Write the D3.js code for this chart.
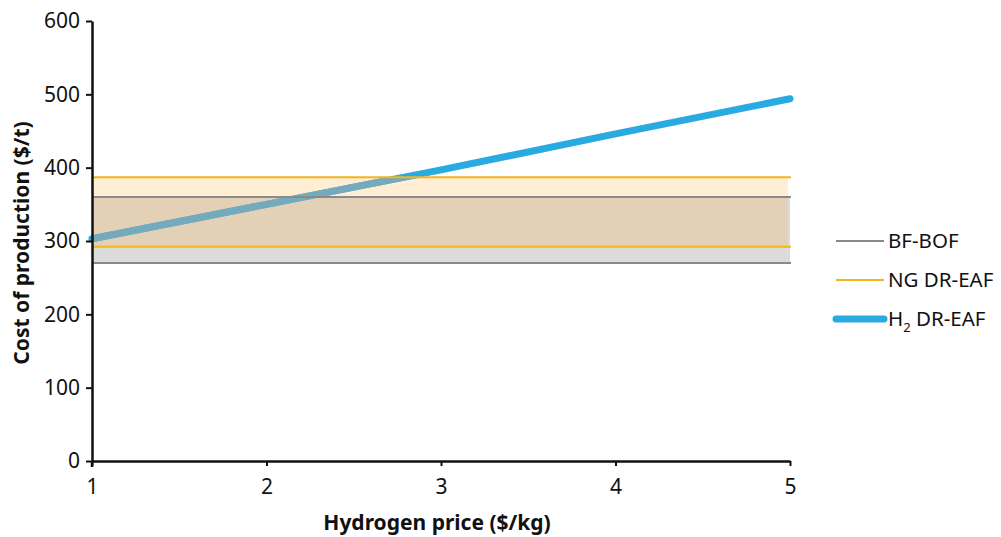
<!DOCTYPE html>
<html><head><meta charset="utf-8">
<script src="https://cdn.jsdelivr.net/npm/d3@7"></script>
<style>
body{margin:0;background:#fff;}
text{font-family:"Noto Sans","Open Sans",sans-serif;fill:#111;}
</style></head>
<body>
<svg id="chart" width="1001" height="537"></svg>
<script>
const xTicks = [1, 2, 3, 4, 5];
const yTicks = [0, 100, 200, 300, 400, 500, 600];
const h2Price = [1, 2, 3, 4, 5];
const h2Cost = [303, 350, 397, 446, 494];
const bandNames = ["BF-BOF", "NG DR-EAF"];
const bandLow = [270, 292];
const bandHigh = [360, 387];
const legendNames = ["BF-BOF", "NG DR-EAF", "H2 DR-EAF"];

const svg = d3.select("#chart");
const x = d3.scaleLinear().domain([1, 5]).range([92, 790]);
const y = d3.scaleLinear().domain([0, 600]).range([461, 21]);

// H2 line (bright)
const line = d3.line().x((d,i)=>x(h2Price[i])).y(d=>y(d));
svg.append("path").datum(h2Cost).attr("d", line)
  .attr("fill","none").attr("stroke","#29abe2").attr("stroke-width",7).attr("stroke-linecap","round");

// bands
const bandFill = ["rgba(153,153,153,0.35)", "rgba(255,170,40,0.2)"];
const bandLine = ["#8a8a8a", "#f4b41c"];
svg.append("rect").attr("x", x(1)).attr("width", x(5)-x(1))
  .attr("y", y(bandHigh[0])).attr("height", y(bandLow[0]) - y(bandHigh[0]))
  .attr("fill", bandFill[0]);
svg.append("rect").attr("x", x(1)).attr("width", x(5)-x(1)-2)
  .attr("y", y(bandHigh[1])).attr("height", y(bandLow[1]) - y(bandHigh[1]))
  .attr("fill", bandFill[1]);

// muted part of H2 line inside the band area
const clip = svg.append("clipPath").attr("id","bandclip");
clip.append("rect").attr("x", x(1)).attr("width", x(5)-x(1))
  .attr("y", y(d3.max(bandHigh))).attr("height", y(d3.min(bandLow)) - y(d3.max(bandHigh)));
svg.append("path").datum(h2Cost).attr("d", line).attr("clip-path","url(#bandclip)")
  .attr("fill","none").attr("stroke","#74aabd").attr("stroke-width",7);

// band border lines
[0,1].forEach(i=>{
  [bandLow[i], bandHigh[i]].forEach(v=>{
    svg.append("line").attr("x1", x(1)).attr("x2", x(5)+1)
      .attr("y1", y(v)).attr("y2", y(v))
      .attr("stroke", bandLine[i]).attr("stroke-width", 2);
  });
});

// axes
const yAxis = svg.append("g").attr("transform","translate(92,0)")
  .call(d3.axisLeft(y).tickValues(yTicks).tickSize(6).tickPadding(6).tickSizeOuter(0));
const xAxis = svg.append("g").attr("transform","translate(0,461)")
  .call(d3.axisBottom(x).tickValues(xTicks).tickFormat(d3.format("d")).tickSize(5).tickPadding(13).tickSizeOuter(0));
[yAxis, xAxis].forEach(g=>{
  g.select(".domain").attr("stroke","#111").attr("stroke-width",2.5);
  g.selectAll(".tick line").attr("stroke","#111").attr("stroke-width",2);
  g.selectAll(".tick text").attr("font-size",21).style("font-family","'Noto Sans',sans-serif").attr("fill","#111");
});
// y axis extends slightly below x axis
svg.append("line").attr("x1",92).attr("x2",92).attr("y1",461).attr("y2",467).attr("stroke","#111").attr("stroke-width",2.5);

// titles
svg.append("text").attr("x", 437).attr("y", 530).attr("text-anchor","middle")
  .attr("font-size",21).attr("font-weight","bold").text("Hydrogen price ($/kg)");
svg.append("text").attr("transform","translate(29,243) rotate(-90)").attr("text-anchor","middle")
  .attr("font-size",21).attr("font-weight","bold").text("Cost of production ($/t)");

// legend
const legY = [241, 280, 319];
const legColor = ["#8a8a8a", "#f4b41c", "#29abe2"];
const legWidth = [2, 2, 7];
legendNames.forEach((n,i)=>{
  svg.append("line").attr("x1", 836).attr("x2", 884).attr("y1", legY[i]).attr("y2", legY[i])
    .attr("stroke", legColor[i]).attr("stroke-width", legWidth[i]).attr("stroke-linecap", i===2?"round":"butt");
  const t = svg.append("text").attr("x", 888).attr("y", legY[i]+7).attr("font-size",20.5);
  if (n.startsWith("H2")) {
    t.append("tspan").text("H");
    t.append("tspan").attr("font-size",13).attr("dy",6).text("2");
    t.append("tspan").attr("dy",-6).text(" DR-EAF");
  } else t.text(n);
});
</script>
</body></html>
